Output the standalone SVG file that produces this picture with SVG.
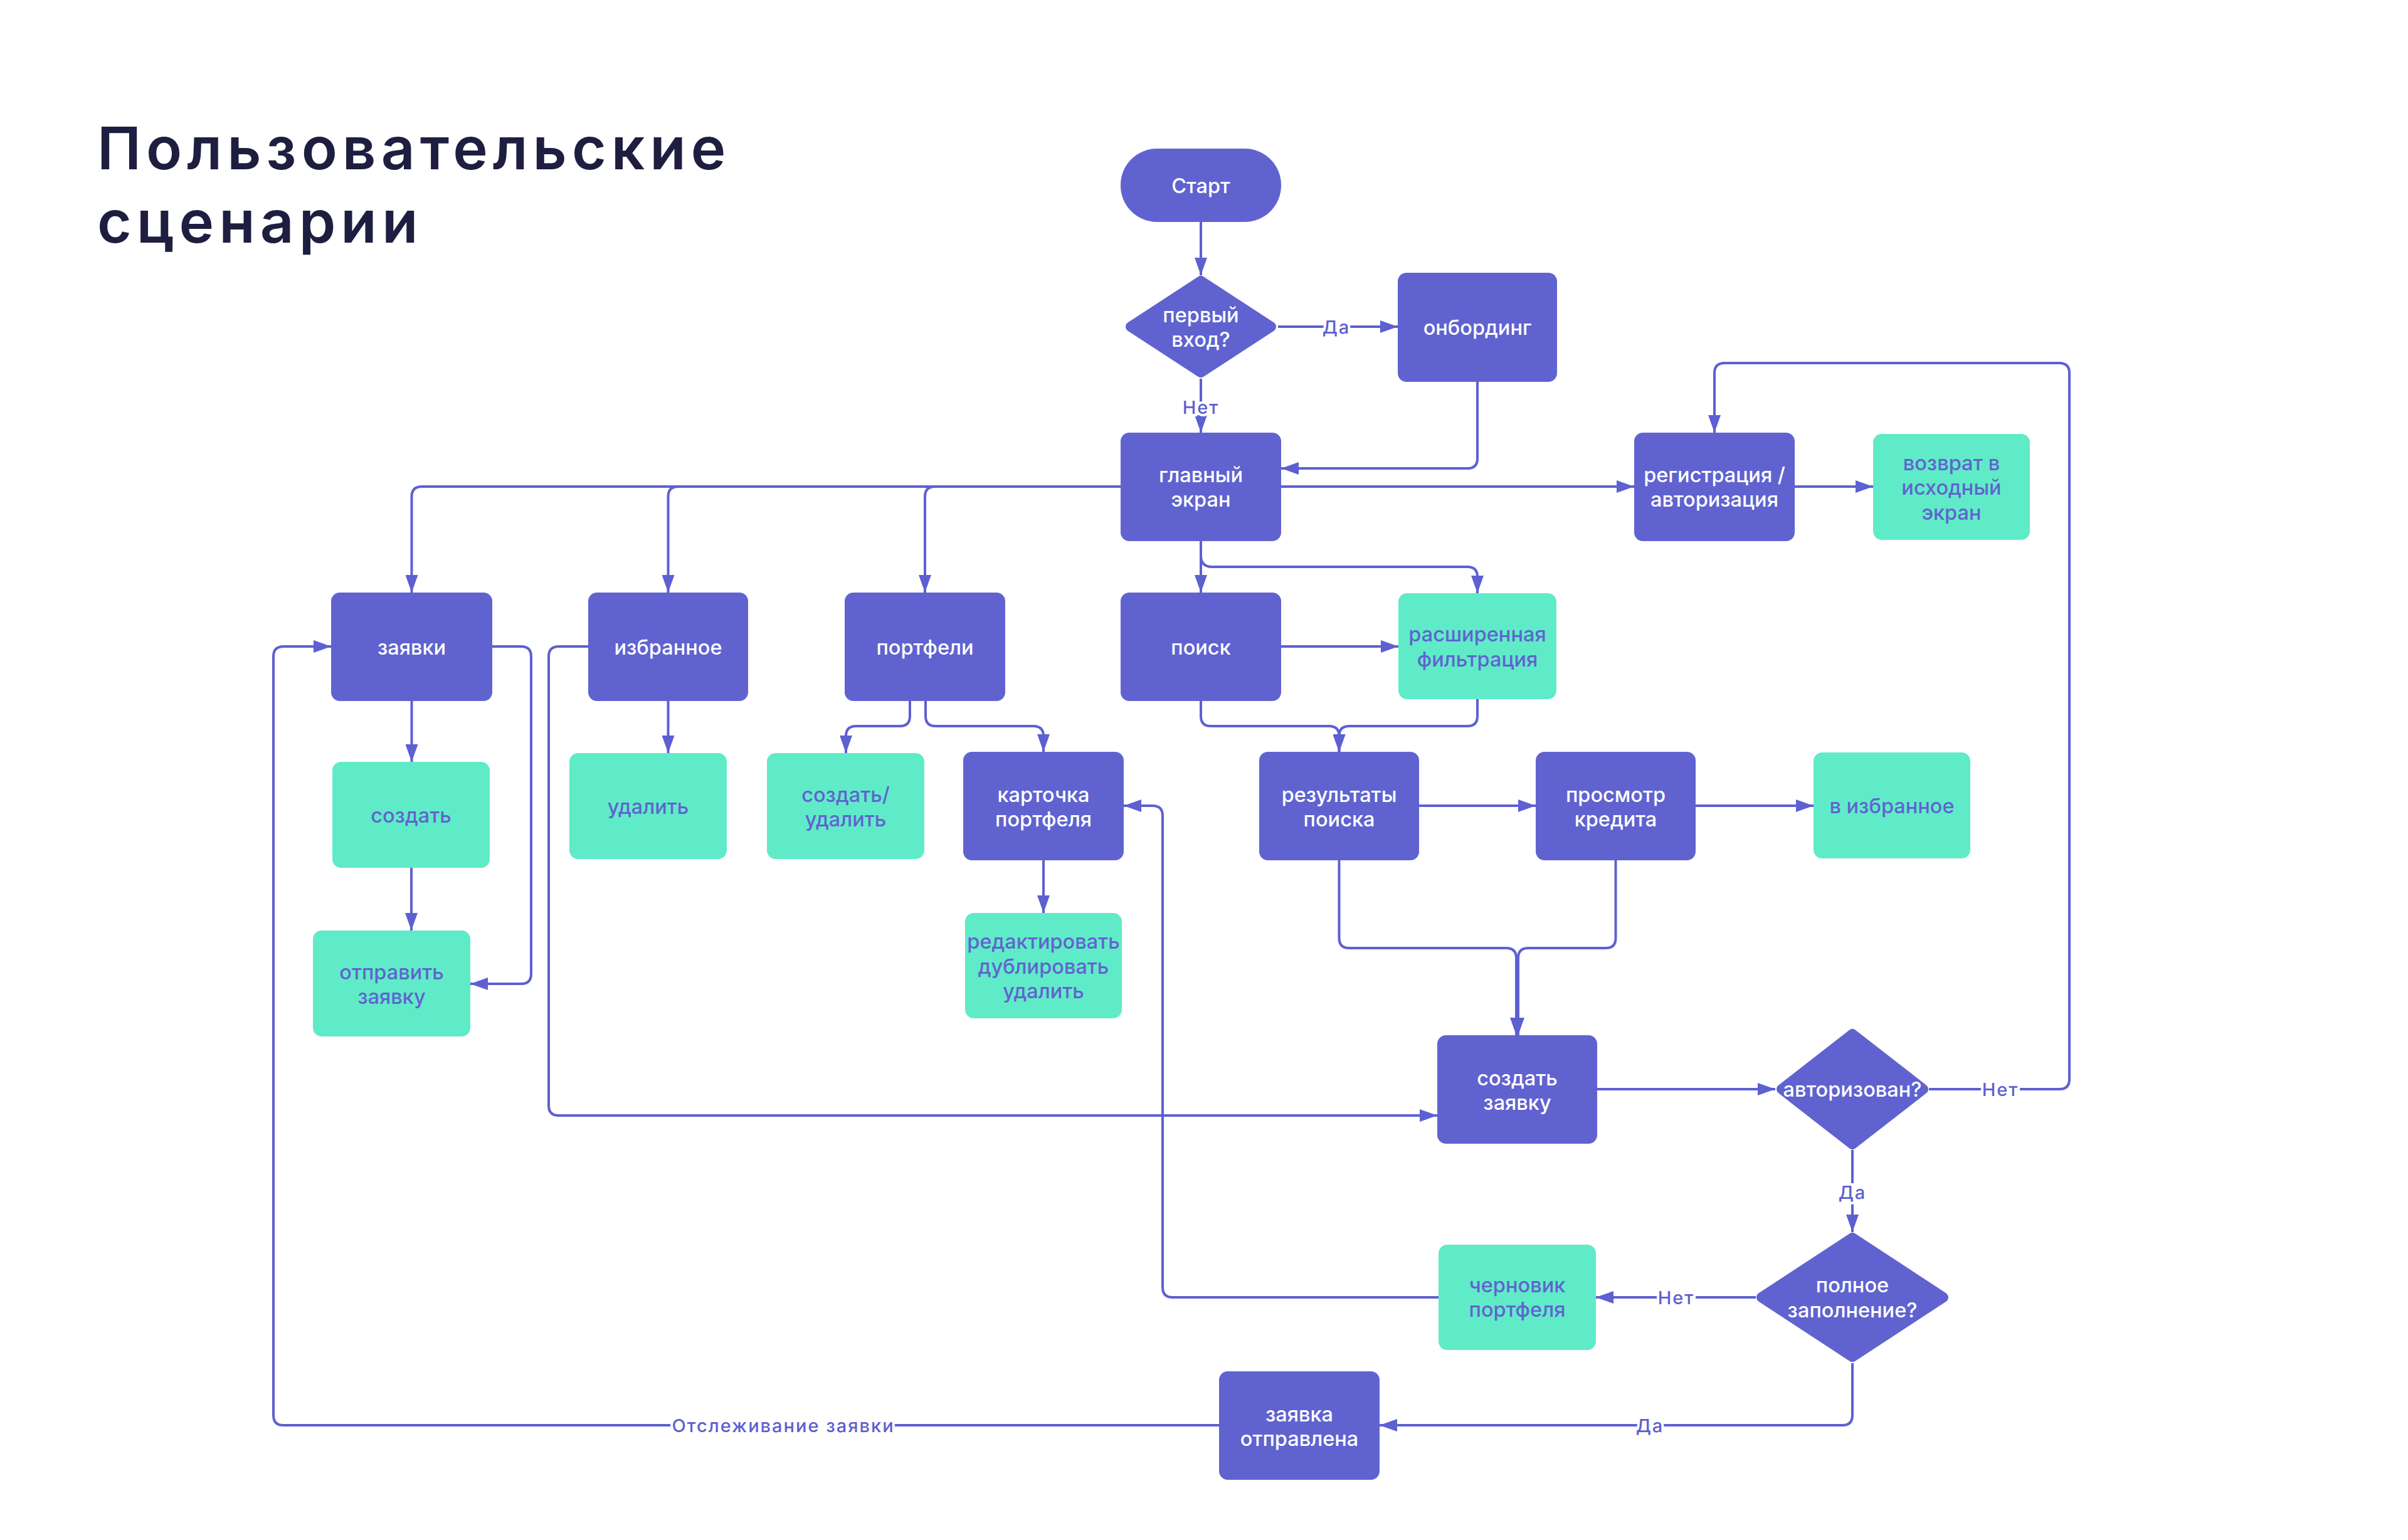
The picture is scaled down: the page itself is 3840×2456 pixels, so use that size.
<svg xmlns="http://www.w3.org/2000/svg" width="3840" height="2456" viewBox="0 0 3840 2456">
<defs>
<style>
.n{fill:#6063CF}
.t{fill:#60EBC8}
.c{fill:none;stroke:#5D60D1;stroke-width:4;stroke-linejoin:round}
.a{marker-end:url(#arr)}
text{font-family:Inter,"Noto Sans","Liberation Sans",sans-serif;font-size:32.5px;font-weight:500;text-anchor:middle;letter-spacing:0}
.w{fill:#FFFFFF}
.p{fill:#6063CF}
.lbl{fill:#5D60D1;stroke:#FFFFFF;stroke-width:8px;paint-order:stroke;font-size:29px;font-weight:500;letter-spacing:2px}
.title{fill:#1E1E40;font-size:94px;font-weight:600;text-anchor:start;letter-spacing:8px}
.d{fill:#6063CF;stroke:#6063CF;stroke-width:16;stroke-linejoin:round}
</style>
<marker id="arr" viewBox="0 0 28 20" refX="28" refY="10" markerWidth="28" markerHeight="20" markerUnits="userSpaceOnUse" orient="auto">
<path d="M0,0 L28,10 L0,20 Z" fill="#5D60D1"/>
</marker>
</defs>
<rect width="3840" height="2456" fill="#FFFFFF"/>
<g id="title">
<text class="title" x="155" y="270">Пользовательские</text>
<text class="title" x="155" y="387">сценарии</text>
</g>
<g id="connectors">
<path class="c a" d="M1915 354 V439"/>
<path class="c a" d="M2038 521 H2229"/>
<path class="c a" d="M1915 604 V690"/>
<path class="c a" d="M2356 609 V731 Q2356 747 2340 747 H2043"/>
<path class="c a" d="M2043 776 H2606"/>
<path class="c a" d="M2862 776 H2987"/>
<path class="c a" d="M1787 776 H672.5 Q656.5 776 656.5 792 V945"/>
<path class="c a" d="M1081.5 776 Q1065.5 776 1065.5 792 V945"/>
<path class="c a" d="M1491 776 Q1475 776 1475 792 V945"/>
<path class="c a" d="M1915 863 V945"/>
<path class="c a" d="M1915 886 Q1915 904 1933 904 H2340 Q2356 904 2356 920 V946"/>
<path class="c a" d="M2043 1031 H2230"/>
<path class="c a" d="M1915 1118 V1142 Q1915 1158 1931 1158 H2119.5 Q2135.5 1158 2135.5 1174 V1199"/>
<path class="c a" d="M2356 1115 V1142 Q2356 1158 2340 1158 H2151.5 Q2135.5 1158 2135.5 1174 V1199"/>
<path class="c a" d="M2263 1285 H2449"/>
<path class="c a" d="M2704 1285 H2892"/>
<path class="c a" d="M2135.5 1372 V1496 Q2135.5 1512 2151.5 1512 H2402 Q2418 1512 2418 1528 V1651"/>
<path class="c a" d="M2576.5 1372 V1496 Q2576.5 1512 2560.5 1512 H2437 Q2421 1512 2421 1528 V1651"/>
<path class="c a" d="M656.5 1118 V1215"/>
<path class="c a" d="M656 1384 V1484"/>
<path class="c a" d="M785 1031 H831 Q847 1031 847 1047 V1553 Q847 1569 831 1569 H750"/>
<path class="c a" d="M938 1031 H891 Q875 1031 875 1047 V1763 Q875 1779 891 1779 H2292"/>
<path class="c a" d="M1065.5 1118 V1201"/>
<path class="c a" d="M1451 1118 V1142 Q1451 1158 1435 1158 H1365 Q1349 1158 1349 1174 V1201"/>
<path class="c a" d="M1476 1118 V1142 Q1476 1158 1492 1158 H1648 Q1664 1158 1664 1174 V1199"/>
<path class="c a" d="M1664 1372 V1456"/>
<path class="c a" d="M2547 1737 H2831"/>
<path class="c a" d="M3076 1737 H3284 Q3300 1737 3300 1721 V595 Q3300 579 3284 579 H2750 Q2734 579 2734 595 V690"/>
<path class="c a" d="M2954 1834 V1965"/>
<path class="c a" d="M2800 2069 H2545"/>
<path class="c a" d="M2294 2069 H1870 Q1854 2069 1854 2053 V1301 Q1854 1285 1838 1285 H1792"/>
<path class="c a" d="M2954 2174 V2257 Q2954 2273 2938 2273 H2200"/>
<path class="c a" d="M1944 2273 H452 Q436 2273 436 2257 V1047 Q436 1031 452 1031 H528"/>
<rect x="1072" y="2260" width="354" height="30" fill="#FFFFFF"/>
<text class="lbl" x="2131" y="532">Да</text>
<text class="lbl" x="1915" y="660">Нет</text>
<text class="lbl" x="3190" y="1748">Нет</text>
<text class="lbl" x="2954" y="1912">Да</text>
<text class="lbl" x="2673" y="2080">Нет</text>
<text class="lbl" x="2631" y="2284">Да</text>
<text class="lbl" x="1249" y="2284">Отслеживание заявки</text>
</g>
<g id="start"><rect class="n" x="1787" y="237" width="256" height="117" rx="58"/><text class="w" x="1915" y="308">Старт</text></g>
<g id="first-visit"><polygon class="d" points="1915,448 2027,521 1915,594 1803,521"/><text class="w" x="1915" y="514">первый</text><text class="w" x="1915" y="553">вход?</text></g>
<g id="onboarding"><rect class="n" x="2229" y="435" width="254" height="174" rx="14"/><text class="w" x="2356" y="534">онбординг</text></g>
<g id="main"><rect class="n" x="1787" y="690" width="256" height="173" rx="14"/><text class="w" x="1915" y="769">главный</text><text class="w" x="1915" y="808">экран</text></g>
<g id="registration"><rect class="n" x="2606" y="690" width="256" height="173" rx="14"/><text class="w" x="2734" y="769">регистрация /</text><text class="w" x="2734" y="808">авторизация</text></g>
<g id="return"><rect class="t" x="2987" y="692" width="250" height="169" rx="14"/><text class="p" x="3112" y="750">возврат в</text><text class="p" x="3112" y="789">исходный</text><text class="p" x="3112" y="829">экран</text></g>
<g id="requests"><rect class="n" x="528" y="945" width="257" height="173" rx="14"/><text class="w" x="656.5" y="1044">заявки</text></g>
<g id="favorites"><rect class="n" x="938" y="945" width="255" height="173" rx="14"/><text class="w" x="1065.5" y="1044">избранное</text></g>
<g id="portfolios"><rect class="n" x="1347" y="945" width="256" height="173" rx="14"/><text class="w" x="1475" y="1044">портфели</text></g>
<g id="search"><rect class="n" x="1787" y="945" width="256" height="173" rx="14"/><text class="w" x="1915" y="1044">поиск</text></g>
<g id="filter"><rect class="t" x="2230" y="946" width="252" height="169" rx="14"/><text class="p" x="2356" y="1023">расширенная</text><text class="p" x="2356" y="1063">фильтрация</text></g>
<g id="create"><rect class="t" x="530" y="1215" width="251" height="169" rx="14"/><text class="p" x="655.5" y="1312">создать</text></g>
<g id="fav-delete"><rect class="t" x="908" y="1201" width="251" height="169" rx="14"/><text class="p" x="1033.5" y="1298">удалить</text></g>
<g id="portfolio-create-delete"><rect class="t" x="1223" y="1201" width="251" height="169" rx="14"/><text class="p" x="1348.5" y="1279">создать/</text><text class="p" x="1348.5" y="1318">удалить</text></g>
<g id="portfolio-card"><rect class="n" x="1536" y="1199" width="256" height="173" rx="14"/><text class="w" x="1664" y="1279">карточка</text><text class="w" x="1664" y="1318">портфеля</text></g>
<g id="results"><rect class="n" x="2008" y="1199" width="255" height="173" rx="14"/><text class="w" x="2135.5" y="1279">результаты</text><text class="w" x="2135.5" y="1318">поиска</text></g>
<g id="credit-view"><rect class="n" x="2449" y="1199" width="255" height="173" rx="14"/><text class="w" x="2576.5" y="1279">просмотр</text><text class="w" x="2576.5" y="1318">кредита</text></g>
<g id="to-favorites"><rect class="t" x="2892" y="1200" width="250" height="169" rx="14"/><text class="p" x="3017" y="1297">в избранное</text></g>
<g id="send-request"><rect class="t" x="499" y="1484" width="251" height="169" rx="14"/><text class="p" x="624.5" y="1562">отправить</text><text class="p" x="624.5" y="1601">заявку</text></g>
<g id="edit"><rect class="t" x="1539" y="1456" width="250" height="168" rx="14"/><text class="p" x="1664" y="1513">редактировать</text><text class="p" x="1664" y="1553">дублировать</text><text class="p" x="1664" y="1592">удалить</text></g>
<g id="create-request"><rect class="n" x="2292" y="1651" width="255" height="173" rx="14"/><text class="w" x="2419.5" y="1731">создать</text><text class="w" x="2419.5" y="1770">заявку</text></g>
<g id="authorized"><polygon class="d" points="2954,1649 3067,1737 2954,1825 2841,1737"/><text class="w" x="2954" y="1749">авторизован?</text></g>
<g id="complete"><polygon class="d" points="2954,1974 3099,2069 2954,2164 2809,2069"/><text class="w" x="2954" y="2061">полное</text><text class="w" x="2954" y="2101">заполнение?</text></g>
<g id="draft"><rect class="t" x="2294" y="1985" width="251" height="168" rx="14"/><text class="p" x="2419.5" y="2061">черновик</text><text class="p" x="2419.5" y="2100">портфеля</text></g>
<g id="request-sent"><rect class="n" x="1944" y="2187" width="256" height="173" rx="14"/><text class="w" x="2072" y="2267">заявка</text><text class="w" x="2072" y="2306">отправлена</text></g>
</svg>
